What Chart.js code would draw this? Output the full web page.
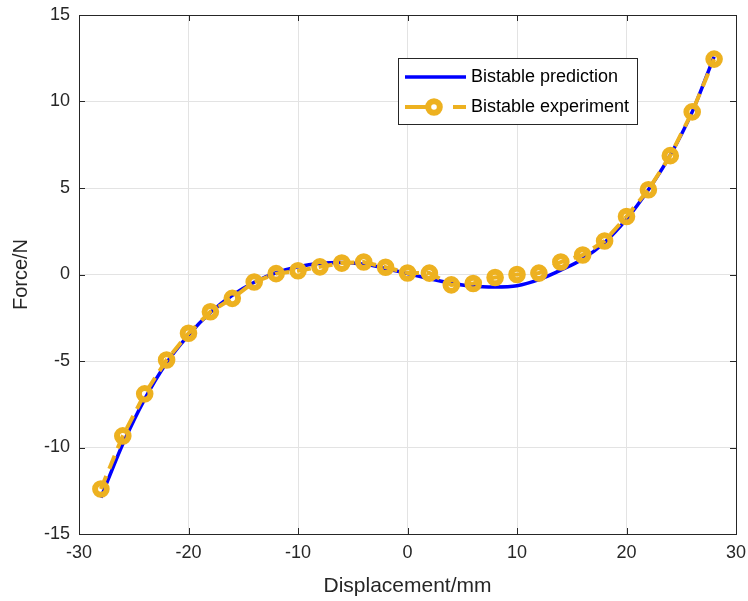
<!DOCTYPE html>
<html>
<head>
<meta charset="utf-8">
<script src="https://cdn.jsdelivr.net/npm/chart.js@4.4.0/dist/chart.umd.min.js"></script>
<style>
    html, body { margin: 0; padding: 0; background: #fff; }
    #wrap { width: 748px; height: 601px; }
</style>
</head>
<body>
<div id="wrap"><canvas id="forceChart" width="748" height="601"></canvas></div>
<script>
// Prediction curve
const predX = [-28, -26, -24, -22, -20, -18, -16, -14, -12, -10, -8, -6, -4, -2, 0, 2, 4, 6, 8, 10, 12, 14, 16, 18, 20, 22, 24, 26, 28];
const predY = [-12.9, -9.8, -7.2, -5.1, -3.5, -2.2, -1.2, -0.45, 0.1, 0.45, 0.65, 0.7, 0.6, 0.35, 0.05, -0.25, -0.5, -0.68, -0.72, -0.65, -0.3, 0.25, 0.9, 1.85, 3.2, 4.9, 6.9, 9.4, 12.6];

// Experiment points
const expX = [-28, -26, -24, -22, -20, -18, -16, -14, -12, -10, -8, -6, -4, -2, 0, 2, 4, 6, 8, 10, 12, 14, 16, 18, 20, 22, 24, 26, 28];
const expY = [-12.4, -9.33, -6.9, -4.94, -3.4, -2.15, -1.38, -0.43, 0.05, 0.22, 0.44, 0.66, 0.72, 0.42, 0.09, 0.08, -0.6, -0.52, -0.17, 0.0, 0.08, 0.72, 1.13, 1.94, 3.35, 4.9, 6.87, 9.4, 12.45];

const xTicks = [-30, -20, -10, 0, 10, 20, 30];
const yTicks = [-15, -10, -5, 0, 5, 10, 15];

const seriesNames = ['Bistable prediction', 'Bistable experiment'];
const blue = '#0000FF';
const orange = '#EDB120';
const axisColor = '#262626';
const fontFamily = '"Liberation Sans", Arial, sans-serif';

function toPoints(xs, ys) {
    return xs.map(function(x, i) { return { x: x, y: ys[i] }; });
}

// Box around the plot with inward ticks, like the original figure
const boxPlugin = {
    id: 'boxPlugin',
    afterDatasetsDraw: function(chart) {
        const ctx = chart.ctx;
        const area = chart.chartArea;
        const xs = chart.scales.x;
        const ys = chart.scales.y;
        const len = 6;
        ctx.save();
        ctx.strokeStyle = axisColor;
        ctx.lineWidth = 1;
        ctx.strokeRect(Math.round(area.left) + 0.5, Math.round(area.top) + 0.5,
            Math.round(area.right - area.left), Math.round(area.bottom - area.top));
        ctx.beginPath();
        xTicks.forEach(function(v) {
            const px = Math.round(xs.getPixelForValue(v)) + 0.5;
            ctx.moveTo(px, area.bottom); ctx.lineTo(px, area.bottom - len);
            ctx.moveTo(px, area.top); ctx.lineTo(px, area.top + len);
        });
        yTicks.forEach(function(v) {
            const py = Math.round(ys.getPixelForValue(v)) + 0.5;
            ctx.moveTo(area.left, py); ctx.lineTo(area.left + len, py);
            ctx.moveTo(area.right, py); ctx.lineTo(area.right - len, py);
        });
        ctx.stroke();
        ctx.restore();
    },
    afterDraw: function(chart) {
        // Legend box
        const ctx = chart.ctx;
        const bx = 398, by = 58, bw = 239, bh = 66;
        ctx.save();
        ctx.fillStyle = '#fff';
        ctx.fillRect(bx, by, bw, bh);
        ctx.strokeStyle = axisColor;
        ctx.lineWidth = 1;
        ctx.strokeRect(bx + 0.5, by + 0.5, bw, bh);

        // prediction sample
        ctx.strokeStyle = blue;
        ctx.lineWidth = 3.5;
        ctx.beginPath();
        ctx.moveTo(405, 77); ctx.lineTo(466, 77);
        ctx.stroke();

        // experiment sample
        ctx.strokeStyle = orange;
        ctx.lineWidth = 4;
        ctx.beginPath();
        ctx.moveTo(405, 107); ctx.lineTo(426, 107);
        ctx.moveTo(453, 107); ctx.lineTo(466, 107);
        ctx.stroke();
        ctx.lineWidth = 6;
        ctx.beginPath();
        ctx.arc(434, 107, 5.8, 0, Math.PI * 2);
        ctx.stroke();

        ctx.fillStyle = '#000';
        ctx.font = '18px ' + fontFamily;
        ctx.textBaseline = 'middle';
        ctx.textAlign = 'left';
        ctx.fillText(seriesNames[0], 471, 77);
        ctx.fillText(seriesNames[1], 471, 107);
        ctx.restore();
    }
};

document.addEventListener('DOMContentLoaded', function() {
    const ctx = document.getElementById('forceChart');

    new Chart(ctx, {
        type: 'line',
        data: {
            datasets: [
                {
                    label: seriesNames[1],
                    data: toPoints(expX, expY),
                    borderColor: orange,
                    borderWidth: 4,
                    borderDash: [14, 8],
                    pointRadius: 5.8,
                    pointBorderWidth: 6,
                    pointBorderColor: orange,
                    pointBackgroundColor: 'rgba(0,0,0,0)',
                    pointHoverRadius: 5.8,
                    tension: 0,
                    fill: false,
                    order: 0
                },
                {
                    label: seriesNames[0],
                    data: toPoints(predX, predY),
                    borderColor: blue,
                    borderWidth: 3.5,
                    pointRadius: 0,
                    cubicInterpolationMode: 'monotone',
                    fill: false,
                    order: 1
                }
            ]
        },
        options: {
            responsive: false,
            animation: false,
            layout: {
                padding: { top: 15, right: 12, left: 0, bottom: 0 }
            },
            scales: {
                x: {
                    type: 'linear',
                    min: -30,
                    max: 30,
                    afterBuildTicks: function(scale) {
                        scale.ticks = xTicks.map(function(v) { return { value: v }; });
                    },
                    afterFit: function(scale) {
                        scale.height = 67;
                        scale.paddingLeft = 0;
                        scale.paddingRight = 0;
                    },
                    grid: { color: '#e3e3e3', drawTicks: false },
                    border: { display: false },
                    ticks: {
                        color: axisColor,
                        padding: 8,
                        maxRotation: 0,
                        font: { family: fontFamily, size: 18 }
                    },
                    title: {
                        display: true,
                        text: 'Displacement/mm',
                        color: axisColor,
                        padding: { top: 0, bottom: 2 },
                        font: { family: fontFamily, size: 21 }
                    }
                },
                y: {
                    type: 'linear',
                    min: -15,
                    max: 15,
                    afterBuildTicks: function(scale) {
                        scale.ticks = yTicks.map(function(v) { return { value: v }; });
                    },
                    afterFit: function(scale) {
                        scale.width = 79;
                        scale.paddingTop = 0;
                        scale.paddingBottom = 0;
                    },
                    grid: { color: '#e3e3e3', drawTicks: false },
                    border: { display: false },
                    ticks: {
                        color: axisColor,
                        padding: 9,
                        font: { family: fontFamily, size: 18 }
                    },
                    title: {
                        display: true,
                        text: 'Force/N',
                        color: axisColor,
                        padding: { top: 9, bottom: 0 },
                        font: { family: fontFamily, size: 20 }
                    }
                }
            },
            plugins: {
                legend: { display: false },
                tooltip: { enabled: false }
            }
        },
        plugins: [boxPlugin]
    });
});
</script>
</body>
</html>
